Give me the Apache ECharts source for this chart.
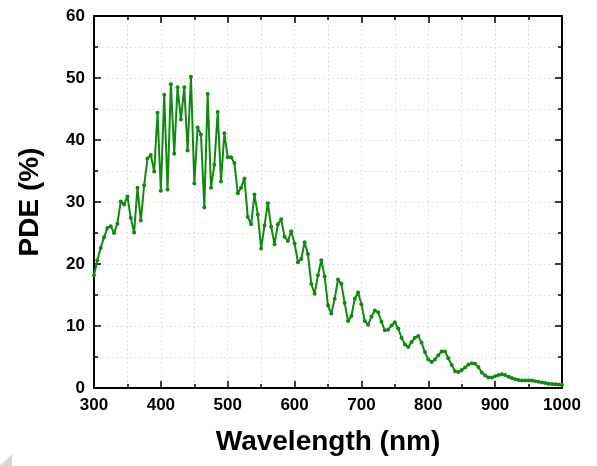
<!DOCTYPE html>
<html><head><meta charset="utf-8">
<script src="https://cdn.jsdelivr.net/npm/echarts@6/dist/echarts.min.js"></script>
<style>html,body{margin:0;padding:0;background:#fff}#c{width:597px;height:466px}</style>
</head><body><div id="c"></div>
<script>
const wavelengths = [300,305,310,315,320,325,330,335,340,345,350,355,360,365,370,375,380,385,390,395,
400,405,410,415,420,425,430,435,440,445,450,455,460,465,470,475,480,485,490,495,
500,505,510,515,520,525,530,535,540,545,550,555,560,565,570,575,580,585,590,595,
600,605,610,615,620,625,630,635,640,645,650,655,660,665,670,675,680,685,690,695,
700,705,710,715,720,725,730,735,740,745,750,755,760,765,770,775,780,785,790,795,
800,805,810,815,820,825,830,835,840,845,850,855,860,865,870,875,880,885,890,895,
900,905,910,915,920,925,930,935,940,945,950,955,960,965,970,975,980,985,990,995,1000];
const pde = [18.2,20.6,22.6,24.3,25.8,26.1,25.0,26.5,30.1,29.6,30.9,27.4,25.1,32.3,27.0,32.7,37.0,37.6,34.9,44.4,
31.8,47.3,32.0,49.0,37.8,48.5,43.3,48.5,38.3,50.2,33.0,42.0,40.9,29.1,47.4,32.3,36.0,44.5,33.3,41.1,
37.2,37.2,36.3,31.4,32.3,33.8,27.6,26.4,31.2,28.0,22.5,26.2,29.8,26.0,23.2,26.4,27.2,24.4,23.7,25.3,
23.3,20.3,20.8,23.5,21.6,16.8,15.2,18.2,20.6,18.0,13.3,12.0,14.4,17.5,16.8,13.7,10.8,11.6,14.4,15.4,
13.5,10.8,10.2,11.5,12.5,12.2,10.7,9.3,9.4,10.1,10.6,9.6,8.1,7.0,6.6,7.4,8.1,8.4,7.3,5.8,
4.6,4.2,4.6,5.3,5.9,5.9,4.8,3.7,2.7,2.6,2.9,3.3,3.8,4.0,3.9,3.4,2.5,2.0,1.7,1.7,
1.9,2.1,2.2,2.1,1.8,1.6,1.4,1.3,1.2,1.2,1.2,1.2,1.1,1.0,0.9,0.8,0.7,0.65,0.6,0.55,0.5];
const xTitle = 'Wavelength (nm)';
const yTitle = 'PDE (%)';

const font = '"Liberation Sans", Arial, sans-serif';
const chart = echarts.init(document.getElementById('c'), null, {renderer:'canvas'});
const dotted = {show:true, lineStyle:{color:'#d9d9d9', type:[1.5,3], width:1}};
const axisLine = {show:true, onZero:false, lineStyle:{color:'#000', width:2}};
const common = {
  axisLine: axisLine,
  axisTick:{show:true, inside:true, length:7, lineStyle:{color:'#000', width:1.5}},
  minorTick:{show:true, splitNumber:2, length:4, lineStyle:{color:'#000', width:1.5}},
};
const lbl = {fontFamily:font, fontWeight:'bold', fontSize:17, color:'#000', margin:9, formatter:v=>String(v)};
chart.setOption({
  animation:false,
  grid:{left:94, right:35, top:16, bottom:78, containLabel:false},
  xAxis:[
    Object.assign({type:'value', min:300, max:1000, interval:100,
      name:xTitle, nameLocation:'middle', nameGap:40,
      nameTextStyle:{fontFamily:font, fontWeight:'bold', fontSize:28, color:'#000'},
      axisLabel:lbl,
      splitLine:dotted, minorSplitLine:dotted}, common),
    Object.assign({type:'value', position:'top', min:300, max:1000, interval:100,
      axisLabel:{show:false}, splitLine:{show:false}}, common)
  ],
  yAxis:[
    Object.assign({type:'value', min:0, max:60, interval:10,
      name:yTitle, nameLocation:'middle', nameGap:50,
      nameTextStyle:{fontFamily:font, fontWeight:'bold', fontSize:28, color:'#000'},
      axisLabel:lbl,
      splitLine:dotted, minorSplitLine:dotted}, common),
    Object.assign({type:'value', position:'right', min:0, max:60, interval:10,
      axisLabel:{show:false}, splitLine:{show:false}}, common)
  ],
  series:[{
    type:'line',
    data: wavelengths.map((w,i)=>[w, pde[i]]),
    symbol:'circle', symbolSize:4, showSymbol:true,
    itemStyle:{color:'#0f8a0f'},
    lineStyle:{color:'#0f8a0f', width:2},
    z:5
  }],
  graphic:[{type:'polygon', shape:{points:[[0,466],[12,454],[12,466]]}, style:{fill:'#d8d8d8'}}]
});
</script></body></html>
